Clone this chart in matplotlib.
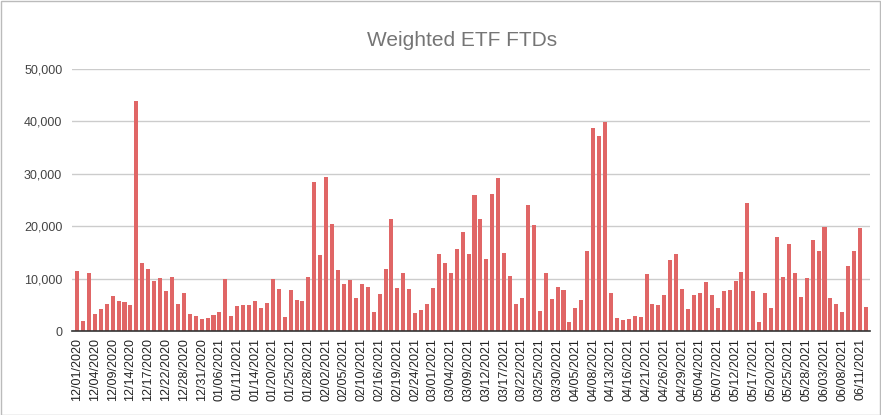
import matplotlib
matplotlib.use("Agg")
import matplotlib.pyplot as plt
import pandas as pd
from matplotlib.ticker import FuncFormatter

# Trading days 12/01/2020 .. 06/14/2021 (US market holidays removed)
holidays = ["2020-12-25", "2021-01-01", "2021-01-18", "2021-02-15", "2021-04-02", "2021-05-31"]
dates = [d for d in pd.bdate_range("2020-12-01", "2021-06-14") if d.strftime("%Y-%m-%d") not in holidays]
date_labels = [d.strftime("%m/%d/%Y") for d in dates]

ftds = [
    11430, 1980, 11100, 3260, 4200, 5170, 6640, 5750, 5560, 4920,
    43870, 12960, 11810, 9580, 10090, 7660, 10280, 5170, 7280, 3260,
    2870, 2300, 2490, 3000, 3640, 9960, 2810, 4790, 4920, 4920,
    5810, 4470, 5430, 9960, 7920, 2750, 7730, 6000, 5810, 10280,
    28480, 14560, 29440, 20430, 11690, 8880, 9770, 6390, 8880, 8430,
    3700, 7150, 11880, 21390, 8300, 10980, 7920, 3510, 4090, 5240,
    8300, 14750, 12900, 11110, 15640, 18900, 14750, 25930, 21390, 13730,
    26120, 29180, 14880, 10470, 5170, 6320, 24010, 20180, 3900, 11050,
    6130, 8370, 7850, 1790, 4410, 5940, 15260, 38700, 37160, 39910,
    7280, 2490, 2040, 2360, 2940, 2680, 10920, 5170, 4980, 6900,
    13600, 14750, 8050, 4210, 6900, 7280, 9390, 6900, 4410, 7660,
    7850, 9580, 11300, 24390, 7660, 1790, 7340, 4410, 17940, 10340,
    16600, 11110, 6510, 10090, 17370, 15330, 19860, 6320, 5170, 3700,
    12390, 15260, 19670, 4660,
]

y_ticks = [0, 10000, 20000, 30000, 40000, 50000]
title = "Weighted ETF FTDs"

plt.rcParams["font.family"] = ["Liberation Sans", "DejaVu Sans"]

fig = plt.figure(figsize=(8.81, 4.15), dpi=100)
ax = fig.add_axes([72 / 881, (415 - 331) / 415, (870 - 72) / 881, (331 - 69) / 415])

x = list(range(len(ftds)))
ax.bar(x, ftds, width=0.68, color="#e06666", zorder=3)

ax.set_ylim(0, 50000)
ax.set_xlim(-0.85, len(ftds) - 0.33)
ax.set_yticks(y_ticks)
ax.yaxis.set_major_formatter(FuncFormatter(lambda v, p: f"{int(v):,}"))
ax.grid(axis="y", color="#cccccc", linewidth=1, zorder=0)
ax.set_xticks(x[::3])
ax.set_xticklabels(date_labels[::3], rotation=90, fontsize=9, color="#222222")
ax.tick_params(axis="both", length=0)
ax.tick_params(axis="y", labelsize=9, labelcolor="#444444", pad=7)
ax.tick_params(axis="x", pad=5)
for s in ["top", "right", "left"]:
    ax.spines[s].set_visible(False)
ax.spines["bottom"].set_color("#333333")
ax.spines["bottom"].set_linewidth(1.2)
ax.spines["bottom"].set_zorder(4)

fig.text(462 / 881, 1 - 40 / 415, title, ha="center", va="center", fontsize=15, color="#757575")

border = plt.Rectangle((0.001, 0.001), 0.998, 0.997, transform=fig.transFigure,
                       fill=False, edgecolor="#bbbbbb", linewidth=1)
fig.patches.append(border)

fig.savefig("out.png", dpi=100)
